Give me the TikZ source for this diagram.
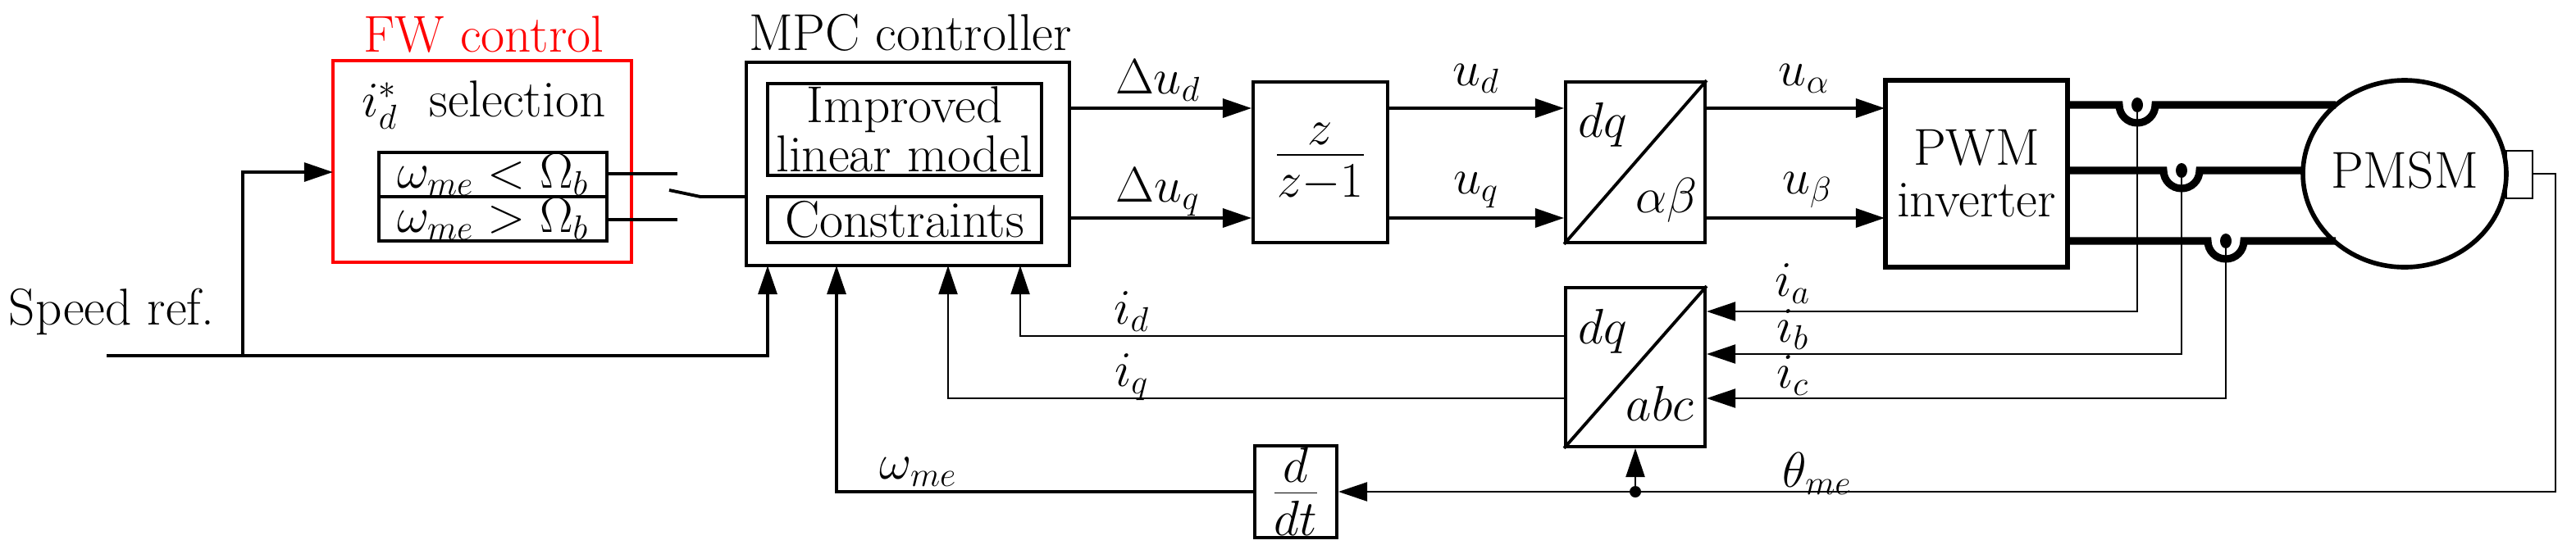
\documentclass[tikz,border=0pt]{standalone}
\usetikzlibrary{arrows.meta}
\begin{document}
\begin{tikzpicture}[x=0.02cm,y=-0.02cm,
  font=\fontsize{18}{21}\selectfont,
  ln/.style={line width=1.1pt},
  thin/.style={line width=0.8pt},
  ph/.style={line width=2.6pt},
  arr/.style={-{Triangle[length=10pt,width=6.5pt]}},
  blk/.style={draw,line width=1.1pt,inner sep=0pt},
  lbl/.style={inner sep=1pt},
  frac/.style={font=\fontsize{23}{26}\selectfont}]
\useasboundingbox (0,0) rectangle (1570.5,337.5);

% FW control
\draw[line width=0.9pt,draw=red] (203,37) rectangle (385,160);
\node[text=red] (fwl) at (295,21) {FW control};
\node (sel) at (295,64) {$i_d^*$\ \ selection};
\draw[ln] (231,93) rectangle (370,120);
\draw[ln] (231,120) rectangle (370,147);
\node[inner sep=0pt] (t1) at (300.5,106.5) {$\omega_{me}<\Omega_b$};
\node[inner sep=0pt] (t2) at (300.5,133.5) {$\omega_{me}>\Omega_b$};
\coordinate (s1) at (413,106);
\coordinate (s2) at (413,134);
\draw[ln] (370,106) -- (s1);
\draw[ln] (370,134) -- (s2);
\coordinate (sw) at (408,116);
\coordinate (swp) at (427,120);

% MPC
\node (mpcl) at (555,20) {MPC controller};
\draw[ln] (455,38) rectangle (652,162);
\coordinate (mpcL) at (455,120);
\draw[ln] (sw) -- (swp) -- (mpcL);
\draw[ln] (468,51) rectangle (635,107);
\node[align=center,inner sep=0pt] (imp) at (551.5,79) {Improved\\[-4pt]linear model};
\draw[ln] (468,120) rectangle (635,148);
\node (con) at (551.5,134) {Constraints};

% z/(z-1)
\node[blk,frac,minimum width=1.64cm,minimum height=1.96cm] (z) at (805,99) {$\frac{z}{z-1}$};
\node[blk,minimum width=1.7cm,minimum height=1.96cm] (dqab) at (997,99) {};
\draw[ln] (dqab.south west) -- (dqab.north east);
\node (dq1) at (977,76) {$dq$};
\node (ab1) at (1016,122) {$\alpha\beta$};
\node[blk,minimum width=2.2cm,minimum height=2.26cm] (pwm) at (1205,106) {};
\node[align=center,inner sep=0pt] (pwmt) at (1205,106) {PWM\\[-3pt]inverter};
\draw[line width=1.4pt] (pwm.north west) rectangle (pwm.south east);

\coordinate (mo1) at (652,66); \coordinate (mo2) at (652,133);
\draw[ln,arr] (mo1) -- (z.west|-mo1);
\draw[ln,arr] (mo2) -- (z.west|-mo2);
\node[lbl] (du1) at (706,49) {$\Delta u_d$};
\node[lbl] (du2) at (706,117) {$\Delta u_q$};
\draw[ln,arr] (z.east|-mo1) -- (dqab.west|-mo1);
\draw[ln,arr] (z.east|-mo2) -- (dqab.west|-mo2);
\node[lbl] (ud) at (900,48) {$u_d$};
\node[lbl] (uq) at (900,116) {$u_q$};
\draw[ln,arr] (dqab.east|-mo1) -- (pwm.west|-mo1);
\draw[ln,arr] (dqab.east|-mo2) -- (pwm.west|-mo2);
\node[lbl] (ua) at (1100,48) {$u_\alpha$};
\node[lbl] (ub) at (1102,116) {$u_\beta$};

% motor
\draw[line width=1.6pt] (1466,106) ellipse [x radius=62, y radius=57];
\node (pmsm) at (1466,104) {PMSM};
\draw[thin] (1528,92) rectangle (1544,121);
\coordinate (enc) at (1544,106);

% phase lines with bumps
\foreach \y/\x/\xe in {64/1303/1424, 104/1330/1404, 147/1357/1424}{
  \draw[ph] (1260,\y) -- (\x-11,\y) arc[start angle=180,end angle=0,radius=11] -- (\xe,\y);
  \fill (\x,\y) ellipse [x radius=3.5, y radius=4.5];
}

% dq/abc
\node[blk,minimum width=1.7cm,minimum height=1.94cm] (dqabc) at (997,224) {};
\draw[ln] (dqabc.south west) -- (dqabc.north east);
\node (dq2) at (977,202) {$dq$};
\node (abc) at (1012,246) {$abc$};
\coordinate (pa) at (1303,64); \coordinate (pb) at (1330,104); \coordinate (pc) at (1357,147);
\draw[thin,arr] (pa) |- (dqabc.east|-0,190);
\draw[thin,arr] (pb) |- (dqabc.east|-0,216);
\draw[thin,arr] (pc) |- (dqabc.east|-0,243);
\node[lbl] (ia) at (1093,173) {$i_a$};
\node[lbl] (ib) at (1093,201) {$i_b$};
\node[lbl] (ic) at (1093,229) {$i_c$};

% feedback i_d, i_q
\draw[thin,arr] (dqabc.west|-0,205) -| (622,162);
\draw[thin,arr] (dqabc.west|-0,243) -| (578,162);
\node[lbl] (id) at (690,190) {$i_d$};
\node[lbl] (iq) at (690,230) {$i_q$};

% d/dt and theta
\node[blk,frac,minimum width=1.0cm,minimum height=1.12cm] (ddt) at (790,300) {$\frac{d}{dt}$};
\coordinate (fb) at (1558,106);
\coordinate (fbd) at (1558,300);
\coordinate (th) at (997,300);
\draw[thin,arr] (enc) -- (fb) -- (fbd) -- (ddt.east);
\fill (th) circle (3.5);
\draw[thin,arr] (th) -- (dqabc.south);
\node[lbl] (thl) at (1108,289) {$\theta_{me}$};
\draw[ln,arr] (ddt.west) -| (510,162);
\node[lbl] (wl) at (560,288) {$\omega_{me}$};

% speed ref
\node (sr) at (68,190) {Speed ref.};
\coordinate (s0) at (65,217);
\coordinate (br) at (148,217);
\draw[ln,arr] (s0) -| (468,162);
\draw[ln,arr] (br) |- (203,105);
\end{tikzpicture}
\end{document}
